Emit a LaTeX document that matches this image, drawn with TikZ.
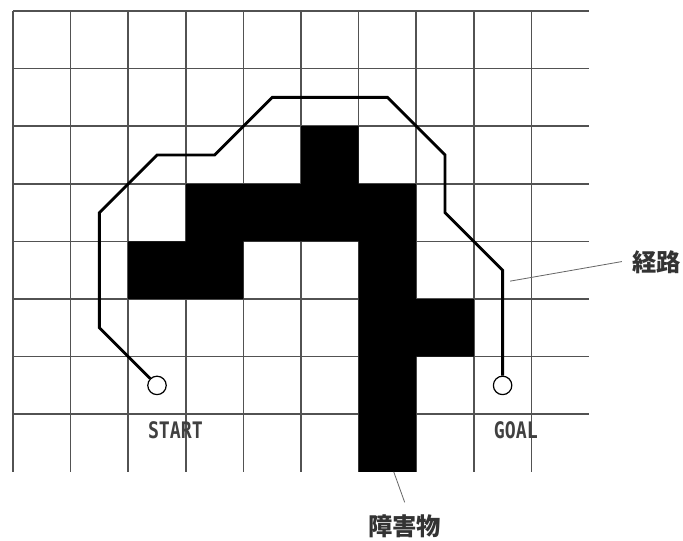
\documentclass[tikz,border=0pt]{standalone}
\usepackage{fontspec}
\newfontfamily\cjkfont{Noto Sans CJK JP}
\newfontfamily\monofont{DejaVu Sans Mono}
\begin{document}
\begin{tikzpicture}[
  gridline/.style={draw=black!68, line width=0.85pt},
  obstacle/.style={fill=black},
  route/.style={draw=black, line width=1.4pt, line join=miter},
  endpt/.style={circle, draw=black, line width=0.6pt, minimum size=0.32cm, inner sep=0pt},
  leader/.style={draw=black!60, line width=0.4pt},
  tag/.style={font=\monofont\bfseries\fontsize{9}{10}\selectfont, text=black!75, inner sep=0pt, yscale=1.25, transform shape},
  cjktag/.style={font=\cjkfont\bfseries\fontsize{12}{14}\selectfont, text=black!80, inner sep=0pt}
]
\useasboundingbox (-0.2257,-1.184) rectangle (11.632,8.191);
% grid
\foreach \x in {0,...,9} \draw[gridline] (\x,0) -- (\x,8);
\foreach \y in {1,...,8} \draw[gridline] (0,\y) -- (10,\y);
% obstacle
\fill[obstacle] (5,6) -- (6,6) -- (6,5) -- (7,5) -- (7,3) -- (8,3) -- (8,2) -- (7,2)
  -- (7,0) -- (6,0) -- (6,4) -- (4,4) -- (4,3) -- (2,3) -- (2,4) -- (3,4) -- (3,5)
  -- (5,5) -- cycle;
% start / goal
\node[endpt] (start) at (2.5,1.5) {};
\node[endpt] (goal) at (8.5,1.5) {};
\node[tag] (startlbl) at (2.82,0.73) {START};
\node[tag] (goallbl) at (8.73,0.72) {GOAL};
% route
\draw[route] (start) -- (1.5,2.5) -- (1.5,4.5) -- (2.5,5.5) -- (3.5,5.5) -- (4.5,6.5)
  -- (6.5,6.5) -- (7.5,5.5) -- (7.5,4.5) -- (8.5,3.5) -- (goal);
% labels and leaders
\node[cjktag] (obslbl) at (6.8,-0.95) {障害物};
\node[cjktag] (routelbl) at (11.17,3.64) {経路};
\coordinate (obsfoot) at (6.61,0);
\coordinate (obstip) at (6.8,-0.53);
\coordinate (routept) at (8.63,3.31);
\coordinate (routetip) at (10.57,3.65);
\draw[leader] (obsfoot) -- (obstip);
\draw[leader] (routept) -- (routetip);
\end{tikzpicture}
\end{document}
